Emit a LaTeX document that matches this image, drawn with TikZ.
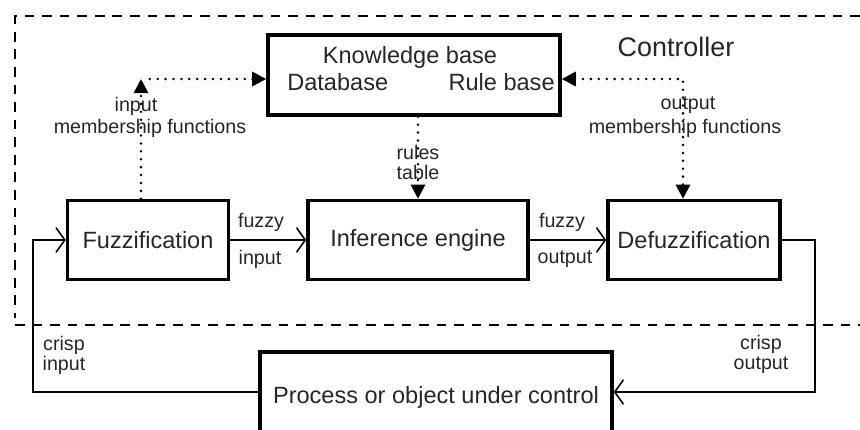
\documentclass[tikz,border=0pt]{standalone}
\usepackage{fontspec}
\setmainfont{Liberation Sans}
\usetikzlibrary{arrows.meta,positioning}
\begin{document}
\begin{tikzpicture}[x=0.02cm,y=-0.02cm,
  tri/.tip={Triangle[length=8pt,width=8pt]},
  blk/.style={draw,line width=2pt,minimum height=1.58cm,inner sep=0pt,text=black!85,font=\fontsize{13.4}{15}\selectfont},
  txt/.style={inner sep=0pt,text=black!85,font=\fontsize{13.4}{15}\selectfont},
  lbl/.style={inner sep=0pt,align=center,text=black!85,font=\fontsize{11.2}{11.4}\selectfont},
  flow/.style={line width=0.9pt,-{Straight Barb[length=5pt,width=14pt,line width=0.9pt]}},
  info/.style={line width=1.6pt,line cap=round,dash pattern=on 0pt off 4.5pt,-tri},
  frame/.style={line width=1.6pt,dash pattern=on 5.5pt off 4.5pt}]
\clip (0,0) rectangle (860,430);
% controller border
\draw[frame] (860,16) -- (15,16) -- (15,318);
\draw[frame] (15,325) -- (860,325);
\node[font=\fontsize{15.3}{17}\selectfont,text=black!85,inner sep=0pt] (ctrl) at (676,47) {Controller};
% blocks
\node[blk,minimum width=5.84cm,minimum height=1.6cm] (kb) at (414,75) {};
\node[txt] (kbt) at (410,57) {Knowledge base};
\node[txt,anchor=west] (db) at (287,82) {Database};
\node[txt,anchor=east] (rb) at (555,82) {Rule base};
\node[blk,minimum width=3.22cm] (fuzz) at (148,240) {Fuzzification};
\node[blk,minimum width=4.4cm] (inf) at (418,240) {Inference engine};
\node[blk,minimum width=3.44cm] (defuzz) at (694,240) {Defuzzification};
\node[blk,minimum width=7.04cm,minimum height=1.8cm] (proc) at (436,397) {Process or object under control};
% membership functions and rules
\coordinate (imf) at (141,79);
\coordinate (omf) at (683,79);
\draw[info] (imf |- fuzz.north) -- (imf);
\draw[info] ([xshift=5pt]imf) -- (imf -| kb.west);
\draw[info,tri-tri] (omf -| kb.east) -- (omf) -- (omf |- defuzz.north);
\draw[info] (kb.south -| inf.north) -- (inf.north);
\node[lbl] (ipl) at (136,106) {input};
\node[lbl] (iml) at (150,128) {membership functions};
\node[lbl] (opl) at (688,105) {output};
\node[lbl] (oml) at (685,128) {membership functions};
\node[lbl] (rtl) at (418,162) {rules\\table};
% main flow
\draw[flow] (fuzz) -- (inf);
\draw[flow] (inf) -- (defuzz);
\node[lbl] (fzi) at (261,222) {fuzzy};
\node[lbl] (ipt) at (260,259) {input};
\node[lbl] (fzo) at (562,222) {fuzzy};
\node[lbl] (opt) at (565,259) {output};
% feedback loop
\coordinate (ro) at (815,392);
\coordinate (li) at (33,392);
\draw[flow] (defuzz.east) -| (ro) -- (ro -| proc.east);
\draw[flow] (proc.west |- li) -- (li) |- (fuzz.west);
\node[lbl] (cri) at (64,355) {crisp\\input};
\node[lbl] (cro) at (761,354) {crisp\\output};
\end{tikzpicture}
\end{document}
